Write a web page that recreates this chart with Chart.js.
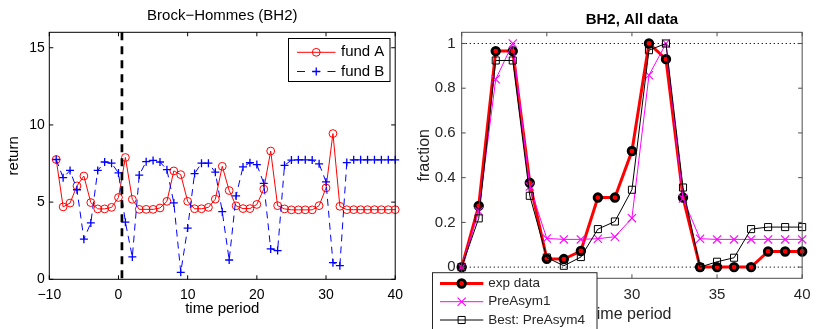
<!DOCTYPE html>
<html><head><meta charset="utf-8">
<script src="https://cdn.jsdelivr.net/npm/chart.js@4.4.1/dist/chart.umd.min.js"></script>
<style>
html,body{margin:0;padding:0;background:#fff;}
#wrap{position:relative;width:818px;height:329px;overflow:hidden;background:#fff;}
.box{position:absolute;top:0;height:329px;}
</style></head><body>
<div id="wrap">
<div class="box" style="left:0;width:410px"><canvas id="c1" width="410" height="329"></canvas></div>
<div class="box" style="left:410px;width:408px"><canvas id="c2" width="408" height="329"></canvas></div>
</div>
<script>
// ---------- data: left panel ----------
const periodsLeft = [-9,-8,-7,-6,-5,-4,-3,-2,-1,0,1,2,3,4,5,6,7,8,9,10,11,12,13,14,15,16,17,18,19,20,21,22,23,24,25,26,27,28,29,30,31,32,33,34,35,36,37,38,39,40];
const fundA = [7.76,4.69,4.94,6.05,6.69,4.97,4.56,4.56,4.66,5.30,
               7.89,5.18,4.53,4.53,4.53,4.62,5.05,7.02,6.78,5.05,
               4.57,4.57,4.66,5.19,7.32,5.75,4.76,4.58,4.58,4.85,
               5.84,8.31,4.77,4.56,4.50,4.50,4.50,4.50,4.77,5.92,
               9.44,4.73,4.51,4.51,4.51,4.51,4.51,4.51,4.51,4.51];
const fundB = [7.76,6.58,7.05,5.80,2.60,3.65,7.05,7.60,7.52,6.89,
               3.70,1.45,6.75,7.62,7.70,7.60,7.10,4.95,0.45,3.32,
               6.85,7.52,7.52,6.94,4.38,1.25,5.40,7.28,7.55,7.43,
               6.22,1.97,1.86,7.38,7.72,7.74,7.74,7.72,7.48,6.31,
               1.08,0.88,7.56,7.74,7.74,7.74,7.74,7.74,7.74,7.74];
const xTicksLeft = [-10,0,10,20,30,40];
const xTickLabelsLeft = ['\u221210','0','10','20','30','40'];
const yTicksLeft = [0,5,10,15];
const yTickLabelsLeft = ['0','5','10','15'];
const switchPeriod = 0.5;

// ---------- data: right panel ----------
const periodsRight = [20,21,22,23,24,25,26,27,28,29,30,31,32,33,34,35,36,37,38,39,40];
const expData  = [0,0.274,0.966,0.966,0.377,0.037,0.036,0.072,0.311,0.311,0.519,1.0,0.93,0.311,0,0,0,0,0.07,0.07,0.07];
const preAsym1 = [0,0.25,0.84,1.0,0.36,0.128,0.124,0.124,0.127,0.136,0.219,0.858,1.0,0.307,0.127,0.124,0.124,0.124,0.124,0.124,0.124];
const preAsym4 = [0,0.218,0.924,0.924,0.319,0.043,0.006,0.045,0.17,0.204,0.346,0.970,1.0,0.356,0,0.024,0.042,0.17,0.179,0.179,0.179];
const xTicksRight = [20,25,30,35,40];
const xTickLabelsRight = ['20','25','30','35','40'];
const yTicksRight = [0,0.2,0.4,0.6,0.8,1];
const yTickLabelsRight = ['0','0.2','0.4','0.6','0.8','1'];
const refLevelsRight = [0,1];

// ---------- helpers ----------
Chart.defaults.font.family = '"Liberation Sans", Arial, Helvetica, sans-serif';
const pts = (xs, ys) => xs.map((x, i) => ({x: x, y: ys[i]}));

function framePlugin(id, color, tickLen) {
  return {
    id: id,
    afterDatasetsDraw(chart) {
      const {ctx, chartArea: a, scales} = chart;
      const x = scales.x, y = scales.y;
      ctx.save();
      ctx.strokeStyle = color; ctx.lineWidth = 1; ctx.setLineDash([]);
      ctx.beginPath();
      x.ticks.forEach(t => {
        const p = x.getPixelForValue(t.value);
        ctx.moveTo(p, a.bottom); ctx.lineTo(p, a.bottom - tickLen);
        ctx.moveTo(p, a.top); ctx.lineTo(p, a.top + tickLen);
      });
      y.ticks.forEach(t => {
        const p = y.getPixelForValue(t.value);
        ctx.moveTo(a.left, p); ctx.lineTo(a.left + tickLen, p);
        ctx.moveTo(a.right, p); ctx.lineTo(a.right - tickLen, p);
      });
      ctx.stroke();
      ctx.strokeRect(a.left, a.top, a.right - a.left, a.bottom - a.top);
      ctx.restore();
    }
  };
}

function legendPlugin(id, cfg) {
  return {
    id: id,
    afterDraw(chart) {
      const ctx = chart.ctx;
      ctx.save();
      ctx.setLineDash([]);
      ctx.fillStyle = '#fff';
      ctx.fillRect(cfg.x, cfg.y, cfg.w, cfg.h);
      ctx.strokeStyle = cfg.border; ctx.lineWidth = 1;
      ctx.strokeRect(cfg.x, cfg.y, cfg.w, cfg.h);
      chart.data.datasets.forEach((ds, i) => {
        const yy = cfg.rows[i];
        ctx.save();
        ctx.strokeStyle = ds.borderColor; ctx.lineWidth = ds.borderWidth;
        ctx.setLineDash(ds.borderDash ? (cfg.legendDash || ds.borderDash) : []);
        ctx.beginPath(); ctx.moveTo(cfg.lineX0, yy); ctx.lineTo(cfg.lineX1, yy); ctx.stroke();
        ctx.restore();
        ctx.save();
        ctx.fillStyle = ds.pointBackgroundColor; ctx.strokeStyle = ds.pointBorderColor;
        ctx.lineWidth = ds.pointBorderWidth;
        Chart.helpers.drawPoint(ctx, {pointStyle: ds.pointStyle, radius: ds.pointRadius, borderWidth: ds.pointBorderWidth, rotation: 0}, (cfg.lineX0 + cfg.lineX1) / 2, yy);
        ctx.restore();
        ctx.fillStyle = cfg.textColor; ctx.font = cfg.font; ctx.textBaseline = 'middle'; ctx.textAlign = 'left';
        ctx.fillText(ds.label, cfg.textX, yy);
      });
      ctx.restore();
    }
  };
}

// ---------- left chart ----------
const switchLinePlugin = {
  id: 'switchLine',
  afterDatasetsDraw(chart) {
    const {ctx, chartArea: a, scales: {x}} = chart;
    const p = x.getPixelForValue(switchPeriod);
    ctx.save();
    ctx.strokeStyle = '#000'; ctx.lineWidth = 2.7; ctx.setLineDash([8, 6]);
    ctx.beginPath(); ctx.moveTo(p, a.top); ctx.lineTo(p, a.bottom); ctx.stroke();
    ctx.restore();
  }
};

new Chart(document.getElementById('c1'), {
  type: 'line',
  data: {
    datasets: [
      {label: 'fund A', data: pts(periodsLeft, fundA), borderColor: '#ff0000', borderWidth: 1,
       pointStyle: 'circle', pointRadius: 3.9, pointBorderColor: '#ff0000', pointBackgroundColor: 'rgba(0,0,0,0)',
       pointBorderWidth: 1, tension: 0, order: 2, clip: false},
      {label: 'fund B', data: pts(periodsLeft, fundB), borderColor: '#0000ff', borderWidth: 1, borderDash: [7, 5],
       pointStyle: 'cross', pointRadius: 4, pointBorderColor: '#0000ff', pointBackgroundColor: '#0000ff',
       pointBorderWidth: 1.3, tension: 0, order: 1, clip: false}
    ]
  },
  options: {
    responsive: false, animation: false, events: [],
    layout: {padding: {left: 0, right: 13.3, top: 0, bottom: 0}},
    plugins: {
      legend: {display: false}, tooltip: {enabled: false},
      title: {display: true, fullSize: false, text: 'Brock\u2212Hommes (BH2)', color: '#000',
              font: {size: 15, weight: 'normal'}, padding: {top: 6.7, bottom: 7.6}}
    },
    scales: {
      x: {type: 'linear', min: -10, max: 40,
          afterBuildTicks: s => { s.ticks = xTicksLeft.map(v => ({value: v})); },
          afterFit: s => { s.height = 49.7; },
          grid: {display: false, drawTicks: false}, border: {display: false},
          ticks: {autoSkip: false, maxRotation: 0, minRotation: 0, padding: 7, color: '#000', font: {size: 14},
                  callback: (v, i) => xTickLabelsLeft[i]},
          title: {display: true, text: 'time period', color: '#000', font: {size: 15}, padding: {top: 0, bottom: 11}}},
      y: {type: 'linear', min: 0, max: 16,
          afterBuildTicks: s => { s.ticks = yTicksLeft.map(v => ({value: v})); },
          afterFit: s => { s.width = 49.3; },
          grid: {display: false, drawTicks: false}, border: {display: false},
          ticks: {autoSkip: false, padding: 4.5, color: '#000', font: {size: 14},
                  callback: (v, i) => yTickLabelsLeft[i]},
          title: {display: true, text: 'return', color: '#000', font: {size: 15}, padding: {top: 4.5, bottom: 0}}}
    }
  },
  plugins: [switchLinePlugin, framePlugin('frameL', '#000', 4),
            legendPlugin('legL', {x: 288.5, y: 38.5, w: 101.5, h: 43, border: '#000', rows: [52.3, 71.5],
                                  lineX0: 297, lineX1: 335.5, textX: 341, textColor: '#000', legendDash: [8, 7.25],
                                  font: '15px "Liberation Sans", Arial, sans-serif'})]
});

// ---------- right chart ----------
const refLinesPlugin = {
  id: 'refLines',
  beforeDatasetsDraw(chart) {
    const {ctx, chartArea: a, scales: {y}} = chart;
    ctx.save();
    ctx.strokeStyle = '#000'; ctx.lineWidth = 1; ctx.setLineDash([1.2, 2.8]);
    refLevelsRight.forEach(v => {
      const p = y.getPixelForValue(v);
      ctx.beginPath(); ctx.moveTo(a.left, p); ctx.lineTo(a.right, p); ctx.stroke();
    });
    ctx.restore();
  }
};

new Chart(document.getElementById('c2'), {
  type: 'line',
  data: {
    datasets: [
      {label: 'exp data', data: pts(periodsRight, expData), borderColor: '#ff0000', borderWidth: 3,
       pointStyle: 'circle', pointRadius: 3.8, pointBorderColor: '#000', pointBackgroundColor: '#ff0000',
       pointBorderWidth: 2.8, tension: 0, order: 3, clip: false},
      {label: 'PreAsym1', data: pts(periodsRight, preAsym1), borderColor: '#ff00ff', borderWidth: 1,
       pointStyle: 'crossRot', pointRadius: 5.8, pointBorderColor: '#ff00ff', pointBackgroundColor: '#ff00ff',
       pointBorderWidth: 1.1, tension: 0, order: 2, clip: false},
      {label: 'Best: PreAsym4', data: pts(periodsRight, preAsym4), borderColor: '#000', borderWidth: 1,
       pointStyle: 'rect', pointRadius: 5, pointBorderColor: '#000', pointBackgroundColor: 'rgba(0,0,0,0)',
       pointBorderWidth: 1, tension: 0, order: 1, clip: false}
    ]
  },
  options: {
    responsive: false, animation: false, events: [],
    layout: {padding: {left: 0, right: 8.7, top: 0, bottom: 0}},
    plugins: {
      legend: {display: false}, tooltip: {enabled: false},
      title: {display: true, fullSize: false, text: 'BH2, All data', color: '#000',
              font: {size: 15, weight: 'bold'}, padding: {top: 11, bottom: 3.3}}
    },
    scales: {
      x: {type: 'linear', min: 20, max: 40,
          afterBuildTicks: s => { s.ticks = xTicksRight.map(v => ({value: v})); },
          afterFit: s => { s.height = 50.7; },
          grid: {display: false, drawTicks: false}, border: {display: false},
          ticks: {autoSkip: false, maxRotation: 0, minRotation: 0, padding: 7.5, color: '#262626', font: {size: 15},
                  callback: (v, i) => xTickLabelsRight[i]},
          title: {display: true, text: 'time period', color: '#262626', font: {size: 16}, padding: {top: 0, bottom: 5}}},
      y: {type: 'linear', min: -0.05, max: 1.05,
          afterBuildTicks: s => { s.ticks = yTicksRight.map(v => ({value: v})); },
          afterFit: s => { s.width = 51.7; },
          grid: {display: false, drawTicks: false}, border: {display: false},
          ticks: {autoSkip: false, padding: 6, color: '#262626', font: {size: 15},
                  callback: (v, i) => yTickLabelsRight[i]},
          title: {display: true, text: 'fraction', color: '#262626', font: {size: 16}, padding: {top: 4.5, bottom: 0}}}
    }
  },
  plugins: [refLinesPlugin, framePlugin('frameR', '#4d4d4d', 4),
            legendPlugin('legR', {x: 22.5, y: 272.7, w: 164.5, h: 70, border: '#262626', rows: [283.5, 301.7, 320],
                                  lineX0: 30, lineX1: 73.3, textX: 78.3, textColor: '#262626', font: '13.5px "Liberation Sans", Arial, sans-serif'})]
});
</script>
</body></html>
